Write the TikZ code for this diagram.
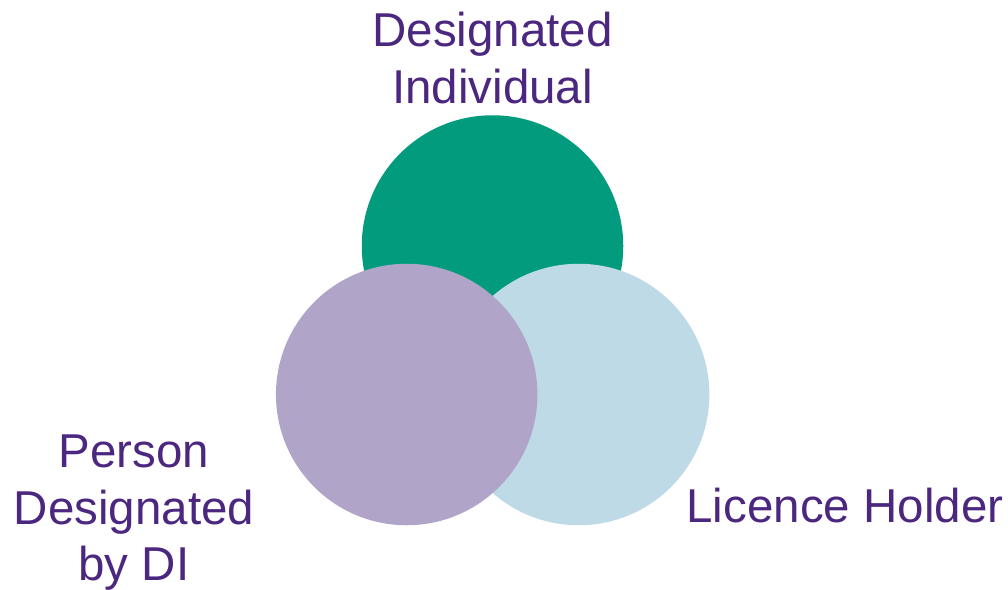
\documentclass[tikz,border=0pt]{standalone}
\usepackage{fontspec}
\setmainfont{Liberation Sans}
\usepackage{xcolor}
\usepackage{tikz}
\usetikzlibrary{shapes,positioning}
\definecolor{digreen}{HTML}{029B7D}
\definecolor{pdlilac}{HTML}{B0A5C8}
\definecolor{lhblue}{HTML}{BEDAE7}
\definecolor{txtpurple}{HTML}{4B2780}
\tikzset{
  role/.style={
      circle,
      inner sep=0pt,
      minimum size=261.5pt
    },
  rolelabel/.style={
      text=txtpurple,
      align=center,
      inner sep=0pt,
      font=\fontsize{47.5}{56.5}\selectfont
    }
}
\begin{document}
\begin{tikzpicture}[x=1pt,y=-1pt]
\useasboundingbox (0,0) rectangle (1008,589);
% the circles
\node[role,fill=digreen] at (492.5,246) (di) {};
\node[role,fill=lhblue] at (578.6,394.5) (lh) {};
\node[role,fill=pdlilac] at (406.7,394.5) (pd) {};

% the labels
\node[rolelabel,anchor=north] at (492.5,12) (dilabel) {Designated\\Individual};
\node[rolelabel,anchor=north] at (134,435) (pdlabel) {Person\\Designated\\by DI};
\node[rolelabel,anchor=base] at (845,522.7) (lhlabel) {Licence Holder};
\end{tikzpicture}
\end{document}
